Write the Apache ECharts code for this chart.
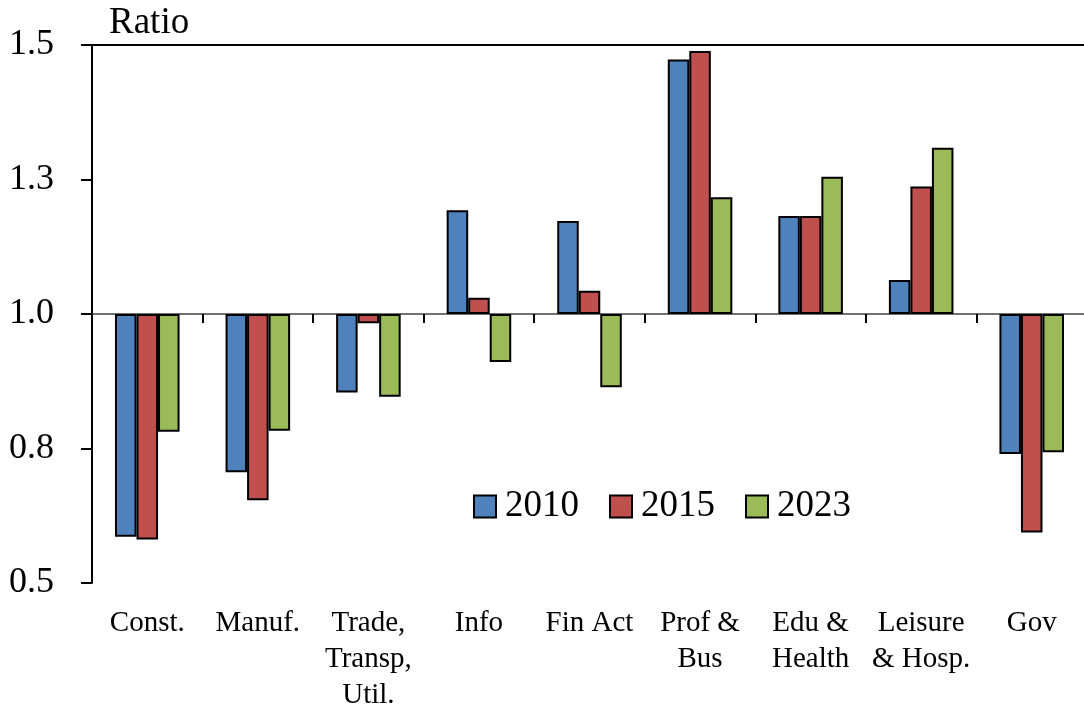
<!DOCTYPE html>
<html>
<head>
<meta charset="utf-8">
<script src="https://cdn.jsdelivr.net/npm/echarts@6/dist/echarts.min.js"></script>
<style>html,body{margin:0;padding:0;background:#fff;}#chart{width:1084px;height:707px;}</style>
</head>
<body>
<div id="chart"></div>
<script>
const categories = ['Const.', 'Manuf.', 'Trade,\nTransp,\nUtil.', 'Info', 'Fin Act', 'Prof &\nBus', 'Edu &\nHealth', 'Leisure\n& Hosp.', 'Gov'];
const years = ['2010', '2015', '2023'];
const ratio2010 = [0.586, 0.706, 0.854, 1.193, 1.173, 1.473, 1.182, 1.063, 0.740];
const ratio2015 = [0.581, 0.654, 0.983, 1.030, 1.043, 1.489, 1.182, 1.237, 0.594];
const ratio2023 = [0.781, 0.783, 0.846, 0.911, 0.864, 1.217, 1.255, 1.309, 0.743];
const yTicks = { min: 0.5, max: 1.5, interval: 0.25 };
const BASE = 1.0; // bars are drawn from the 1.0 line

const FONT = 'Liberation Serif';
const colors = ['#4F81BD', '#C0504D', '#9BBB59'];
const allData = [ratio2010, ratio2015, ratio2023];

const chart = echarts.init(document.getElementById('chart'), null, { renderer: 'canvas' });

const series = years.map((y, i) => {
  const s = {
    name: y,
    type: 'bar',
    xAxisIndex: 0,
    data: allData[i].map(v => +(v - BASE).toFixed(4)),
    barGap: '0%',
    barCategoryGap: '41.6%',
    itemStyle: { color: colors[i], borderColor: '#000', borderWidth: 2 },
    emphasis: { disabled: true }
  };
  if (i === 0) {
    s.markLine = {
      silent: true,
      symbol: ['none', 'none'],
      label: { show: false },
      lineStyle: { color: '#000', width: 2, type: 'solid' },
      data: [{ yAxis: yTicks.max - BASE }]
    };
  }
  return s;
});

chart.setOption({
  animation: false,
  backgroundColor: '#fff',
  textStyle: { fontFamily: FONT, color: '#000' },
  title: {
    text: 'Ratio', left: 104, top: 0,
    textStyle: { fontFamily: FONT, fontSize: 37, fontWeight: 'normal', color: '#000' }
  },
  legend: {
    data: years, left: 468, top: 483, icon: 'rect',
    itemWidth: 22, itemHeight: 22, itemGap: 30,
    textStyle: { fontFamily: FONT, fontSize: 37, color: '#000', padding: [0, 0, 0, 4] }
  },
  grid: { left: 92, top: 45, width: 995, height: 538, containLabel: false, outerBoundsMode: 'none' },
  xAxis: [
    {
      type: 'category', data: categories, position: 'bottom',
      axisLine: { show: false, onZero: false },
      axisTick: { show: false },
      axisLabel: { interval: 0, fontFamily: FONT, fontSize: 29, lineHeight: 36, color: '#000', margin: 22 },
      splitLine: { show: false }
    },
    {
      type: 'category', data: categories, position: 'top',
      axisLine: { show: true, onZero: true, lineStyle: { color: '#444', width: 1.5 } },
      axisTick: { show: true, inside: true, length: 9, lineStyle: { color: '#000', width: 2 } },
      axisLabel: { show: false },
      splitLine: { show: false }
    }
  ],
  yAxis: {
    type: 'value',
    min: yTicks.min - BASE, max: yTicks.max - BASE, interval: yTicks.interval,
    axisLine: { show: true, onZero: false, lineStyle: { color: '#000', width: 2 } },
    axisTick: { show: true, length: 11, lineStyle: { color: '#000', width: 2 } },
    axisLabel: {
      fontFamily: FONT, fontSize: 36, color: '#000', margin: 38,
      formatter: v => (v + BASE).toFixed(1)
    },
    splitLine: { show: false }
  },
  series: series
});
</script>
</body>
</html>
